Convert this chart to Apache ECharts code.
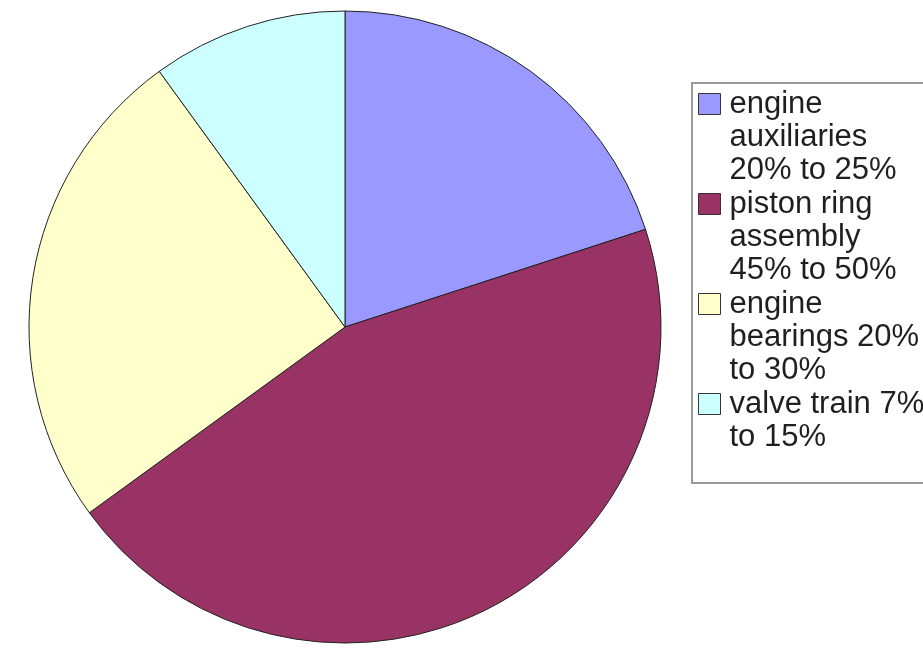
<!DOCTYPE html>
<html>
<head>
<meta charset="utf-8">
<script src="https://cdn.jsdelivr.net/npm/echarts@6/dist/echarts.min.js"></script>
<style>
  html, body { margin: 0; padding: 0; background: #ffffff; }
  #chart { width: 923px; height: 648px; }
</style>
</head>
<body>
<div id="chart"></div>
<script>
// Share of engine friction losses by component group
const categories = [
  'engine auxiliaries 20% to 25%',
  'piston ring assembly 45% to 50%',
  'engine bearings 20% to 30%',
  'valve train 7% to 15%'
];
// Legend text, wrapped as it is printed (three rows per entry)
const legendLines = [
  ['engine', 'auxiliaries', '20% to 25%'],
  ['piston ring', 'assembly', '45% to 50%'],
  ['engine', 'bearings 20%', 'to 30%'],
  ['valve train 7%', 'to 15%', '']
];
// Slice sizes (percent of total)
const shares = [20, 45, 25, 10];
const colors = ['#9999FF', '#993366', '#FFFFCC', '#CCFFFF'];

const LINE_H = 33;
const ROWS = 3;
// Swatch square placed beside the first text row; the two bare move-to points
// stretch the icon box to the full entry height so the square is not rescaled.
const SWATCH_ICON = 'path://M0,0 M0,6 L22,6 L22,27 L0,27 Z M26,' + (ROWS * LINE_H);

const chart = echarts.init(document.getElementById('chart'), null, { renderer: 'canvas' });

const pieData = categories.map((name, i) => ({
  name: name,
  value: shares[i],
  itemStyle: { color: colors[i] }
}));

chart.setOption({
  animation: false,
  backgroundColor: '#ffffff',
  legend: {
    orient: 'vertical',
    left: 692,
    top: 83,
    padding: [4, 40, -4, 6],
    itemGap: 0,
    itemWidth: 26,
    itemHeight: ROWS * LINE_H,
    icon: SWATCH_ICON,
    borderColor: '#9a9a9a',
    borderWidth: 2,
    borderRadius: 0,
    selectedMode: false,
    data: categories,
    itemStyle: { borderColor: '#333333', borderWidth: 1 },
    formatter: function (name) {
      return legendLines[categories.indexOf(name)].join('\n');
    },
    textStyle: {
      fontFamily: '"Liberation Sans", Arial, sans-serif',
      fontSize: 31,
      lineHeight: LINE_H,
      color: '#1f1f1f'
    }
  },
  series: [{
    type: 'pie',
    center: [345, 327],
    radius: 316,
    startAngle: 90,
    clockwise: true,
    silent: true,
    label: { show: false },
    labelLine: { show: false },
    itemStyle: { borderColor: '#222222', borderWidth: 1 },
    data: pieData
  }]
});
</script>
</body>
</html>
